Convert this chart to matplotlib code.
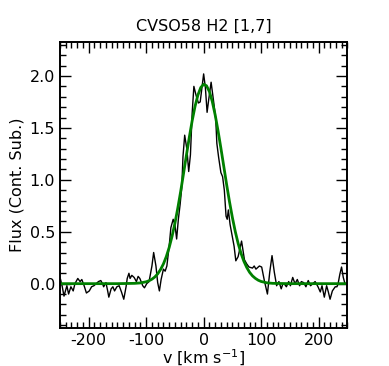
import matplotlib
matplotlib.use("Agg")
import matplotlib.pyplot as plt
from matplotlib.ticker import MultipleLocator

plt.rcParams["axes.unicode_minus"] = False

# observed spectrum (velocity in km/s, continuum-subtracted flux)
vel = [-249, -246, -243, -238, -235, -231, -227, -224, -219, -215, -212, -208,
       -204, -199, -195, -191, -187, -183, -179, -176, -174, -170, -167, -165,
       -161, -158, -155, -151, -147, -143, -139, -135, -133, -130, -128, -125,
       -121, -117, -114, -111, -106, -103, -99, -95, -90, -87, -83, -80, -77,
       -74, -70, -67, -64, -60, -57, -53, -50, -47, -44, -41, -38, -36, -33,
       -29, -26, -23, -20, -17, -13, -9, -6, -2, 0, 3, 6, 9, 13, 17, 21, 23,
       26, 30, 33, 36, 39, 41, 43, 46, 50, 53, 56, 60, 66, 71, 75, 79, 85, 88,
       91, 97, 101, 106, 111, 115, 119, 123, 127, 131, 135, 138, 140, 144, 148,
       151, 155, 159, 163, 167, 170, 174, 178, 182, 186, 190, 194, 199, 203,
       206, 210, 214, 217, 220, 224, 229, 232, 234, 237, 240, 243, 246, 250]
flux = [0.04, -0.03, -0.12, -0.02, -0.10, -0.03, -0.07, 0.00, 0.05, 0.02, 0.04,
        -0.02, -0.09, -0.07, -0.03, -0.02, 0.00, 0.02, 0.03, 0.00, -0.03, 0.01,
        -0.07, -0.13, -0.05, -0.03, -0.07, -0.03, -0.02, -0.08, -0.15, -0.03,
        0.05, 0.10, 0.05, 0.08, 0.06, 0.02, 0.07, 0.05, -0.02, -0.04, 0.00,
        0.02, 0.17, 0.30, 0.17, 0.01, -0.07, 0.04, 0.14, 0.12, 0.17, 0.36, 0.54,
        0.62, 0.57, 0.43, 0.62, 0.76, 0.93, 1.22, 1.43, 1.29, 1.08, 1.24, 1.64,
        1.90, 1.81, 1.74, 1.75, 1.93, 2.02, 1.89, 1.65, 1.78, 1.94, 1.77, 1.59,
        1.35, 1.22, 1.07, 1.03, 0.90, 0.65, 0.62, 0.71, 0.57, 0.45, 0.36, 0.22,
        0.26, 0.41, 0.23, 0.19, 0.16, 0.15, 0.17, 0.14, 0.17, 0.16, 0.02, -0.10,
        0.11, 0.27, 0.11, -0.02, 0.02, -0.05, 0.00, 0.00, -0.03, 0.02, -0.02,
        0.06, 0.00, 0.04, -0.02, 0.02, 0.01, -0.03, 0.03, -0.02, 0.00, 0.02,
        -0.03, -0.08, -0.02, -0.13, -0.02, -0.08, -0.15, -0.07, -0.03, -0.03,
        0.00, 0.09, 0.16, 0.06, 0.00, 0.00]

# line fit
fit_vel = [-250, -150, -120, -110, -100, -95, -90, -85, -80, -75, -70, -65,
           -60, -55, -50, -45, -40, -35, -30, -25, -20, -15, -10, -5, 0, 5,
           10, 15, 20, 25, 30, 35, 40, 45, 50, 55, 60, 65, 70, 75, 80, 85, 90,
           95, 100, 110, 120, 150, 250]
fit_flux = [0.0, 0.0, 0.003, 0.007, 0.018, 0.028, 0.043, 0.064, 0.094, 0.136,
            0.190, 0.260, 0.348, 0.455, 0.581, 0.727, 0.887, 1.061, 1.236,
            1.408, 1.568, 1.707, 1.816, 1.889, 1.920, 1.906, 1.850, 1.755,
            1.627, 1.474, 1.306, 1.131, 0.955, 0.789, 0.637, 0.503, 0.388,
            0.293, 0.216, 0.156, 0.109, 0.075, 0.051, 0.033, 0.021, 0.008,
            0.003, 0.0, 0.0]

fig = plt.figure(figsize=(3.89, 3.66), dpi=100)
ax = fig.add_axes([0.1542, 0.103, 0.7386, 0.783])

ax.plot(vel, flux, color="black", lw=1.0)
ax.plot(fit_vel, fit_flux, color="green", lw=2.0)

ax.set_xlim(-250, 250)
ax.set_ylim(-0.43, 2.33)
ax.xaxis.set_major_locator(MultipleLocator(100))
ax.xaxis.set_minor_locator(MultipleLocator(10))
ax.yaxis.set_major_locator(MultipleLocator(0.5))
ax.yaxis.set_minor_locator(MultipleLocator(0.1))
ax.tick_params(which="both", direction="in", top=True, right=True, labelsize=11.5)
ax.tick_params(which="major", length=8, width=1.0)
ax.tick_params(which="minor", length=4, width=1.0)
for s in ax.spines.values():
    s.set_linewidth(1.4)

ax.set_title("CVSO58 H2 [1,7]", fontsize=11.5, pad=8)
ax.set_xlabel("v [km s$^{-1}$]", fontsize=11.5, labelpad=0)
ax.set_ylabel("Flux (Cont. Sub.)", fontsize=11.5)

fig.savefig("out.png", dpi=100)
